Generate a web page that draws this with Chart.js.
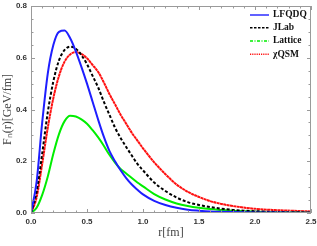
<!DOCTYPE html>
<html><head><meta charset="utf-8">
<script src="https://cdn.jsdelivr.net/npm/chart.js@4/dist/chart.umd.min.js"></script>
<style>html,body{margin:0;padding:0;background:#fff}#wrap{width:317px;height:246px;position:relative}</style>
</head><body><div id="wrap"><canvas id="c"></canvas></div>
<script>
const r = [0,0.05,0.10,0.15,0.20,0.25,0.30,0.35,0.40,0.45,0.50,0.55,0.60,0.65,0.70,0.75,0.80,0.85,0.90,0.95,1.0,1.1,1.2,1.3,1.4,1.5,1.6,1.7,1.8,1.9,2.0,2.2,2.5];
const lfqdq = [0,0.12,0.35,0.54,0.65,0.70,0.705,0.675,0.625,0.565,0.50,0.43,0.36,0.295,0.24,0.20,0.165,0.135,0.11,0.09,0.072,0.047,0.031,0.02,0.013,0.009,0.006,0.0045,0.0035,0.0028,0.0022,0.0015,0.0008];
const jlab = [0,0.08,0.23,0.39,0.51,0.59,0.63,0.643,0.635,0.61,0.575,0.53,0.485,0.43,0.38,0.33,0.29,0.255,0.222,0.19,0.165,0.118,0.085,0.06,0.042,0.031,0.023,0.017,0.012,0.009,0.007,0.004,0.002];
const lattice = [0,0.02,0.07,0.141,0.23,0.305,0.355,0.376,0.373,0.362,0.345,0.32,0.292,0.26,0.225,0.195,0.17,0.153,0.135,0.118,0.103,0.073,0.052,0.037,0.027,0.020,0.015,0.012,0.009,0.007,0.005,0.003,0.001];
const xqsm = [0,0.06,0.19,0.33,0.445,0.53,0.585,0.613,0.622,0.615,0.598,0.572,0.545,0.505,0.46,0.42,0.38,0.345,0.31,0.28,0.25,0.196,0.15,0.11,0.082,0.062,0.046,0.035,0.027,0.021,0.016,0.011,0.006];
const seriesNames = ['LFQDQ','JLab','Lattice','χQSM'];
const xMajor = [0,0.5,1.0,1.5,2.0,2.5];
const yMajor = [0,0.2,0.4,0.6,0.8];

const pts = v => r.map((x,i)=>({x:x,y:v[i]}));
const styles = [
  {color:'#1e1eff', dash:[], ldash:[]},
  {color:'#000000', dash:[3,2], ldash:[2.5,1.5]},
  {color:'#00ee00', dash:[], ldash:[3,1.5,1,1.5]},
  {color:'#ff1010', dash:[3,0.4], ldash:[1.2,1]}
];
const vals = [lfqdq,jlab,lattice,xqsm];
const datasets = vals.map((v,i)=>({
  label: seriesNames[i], data: pts(v), borderColor: styles[i].color, borderWidth: 2,
  borderDash: styles[i].dash, pointRadius: 0, fill:false, cubicInterpolationMode:'monotone'
}));

const framePlugin = {
  id:'frame',
  afterDatasetsDraw(chart){
    const {ctx, chartArea:a, scales:{x,y}} = chart;
    ctx.save();
    ctx.strokeStyle = '#9a9a9a'; ctx.lineWidth = 1;
    ctx.strokeRect(a.left+0.5, a.top+0.5, a.right-a.left-1, a.bottom-a.top-1);
    const tick = (px, len, vert) => {
      ctx.beginPath();
      if (vert) { ctx.moveTo(px, a.bottom); ctx.lineTo(px, a.bottom-len); ctx.moveTo(px, a.top); ctx.lineTo(px, a.top+len); }
      else { ctx.moveTo(a.left, px); ctx.lineTo(a.left+len, px); ctx.moveTo(a.right, px); ctx.lineTo(a.right-len, px); }
      ctx.stroke();
    };
    for (let i=0;i<=25;i++){ const v=i/10; const px=Math.round(x.getPixelForValue(v))+0.5; tick(px, (i%5===0)?4:2.5, true); }
    for (let i=0;i<=16;i++){ const v=i/20; const py=Math.round(y.getPixelForValue(v))+0.5; tick(py, (i%4===0)?4:2.5, false); }
    const lx0 = 250, lx1 = 269, tx = 273, ys = [15, 27.8, 41, 54.3];
    ctx.font = 'bold 9.5px "Liberation Serif", serif';
    ctx.textBaseline = 'middle'; ctx.textAlign='left';
    chart.data.datasets.forEach((d,i)=>{
      ctx.beginPath(); ctx.setLineDash(styles[i].ldash); ctx.strokeStyle = d.borderColor; ctx.lineWidth = 1.4;
      ctx.moveTo(lx0, ys[i]); ctx.lineTo(lx1, ys[i]); ctx.stroke();
      ctx.setLineDash([]); ctx.fillStyle = '#111';
      ctx.fillText(d.label, tx, ys[i]);
    });
    ctx.restore();
  }
};

new Chart(document.getElementById('c'), {
  type:'line',
  data:{datasets},
  plugins:[framePlugin],
  options:{
    responsive:true, maintainAspectRatio:false, animation:false,
    layout:{padding:{left:0,right:6,top:6,bottom:0}},
    plugins:{legend:{display:false}, tooltip:{enabled:false}},
    scales:{
      x:{type:'linear', min:0, max:2.5,
        afterBuildTicks: s => { s.ticks = xMajor.map(v=>({value:v})); },
        afterFit: s => { s.height = 33; s.paddingLeft = 0; s.paddingRight = 0; },
        grid:{display:false, drawTicks:false}, border:{display:false},
        ticks:{padding:4, maxRotation:0, autoSkip:false, color:'#333', font:{family:'"Liberation Sans", Arial, sans-serif', size:8, weight:'bold'}, callback:v=>Number(v).toFixed(1)},
        title:{display:true, text:'r[fm]', color:'#444', padding:{top:0,bottom:6}, font:{family:'"Liberation Serif", serif', size:12}}
      },
      y:{type:'linear', min:0, max:0.8,
        afterBuildTicks: s => { s.ticks = yMajor.map(v=>({value:v})); },
        afterFit: s => { s.width = 31; s.paddingTop = 0; s.paddingBottom = 0; },
        grid:{display:false, drawTicks:false}, border:{display:false},
        ticks:{padding:4, color:'#333', font:{family:'"Liberation Sans", Arial, sans-serif', size:8, weight:'bold'}, callback:v=>Number(v).toFixed(1)},
        title:{display:true, text:'Fₙ(r)[GeV/fm]', color:'#444', padding:{top:1,bottom:0}, font:{family:'"Liberation Serif", serif', size:12}}
      }
    }
  }
});
</script></body></html>
